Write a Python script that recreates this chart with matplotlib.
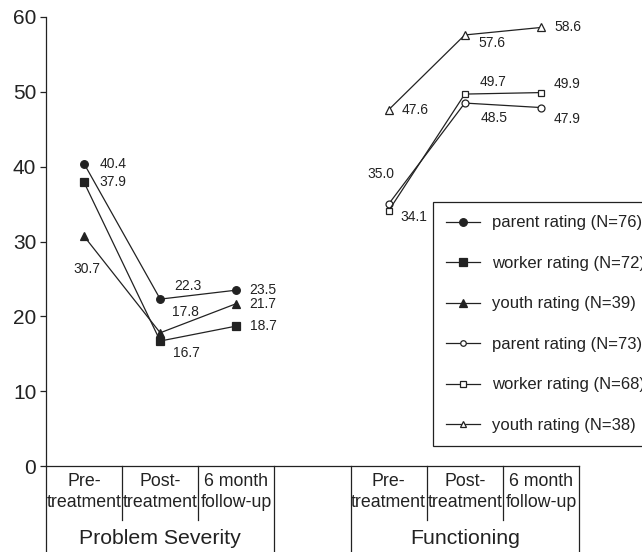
import numpy as np
import matplotlib
matplotlib.use('Agg')
import matplotlib.pyplot as plt
from matplotlib.lines import Line2D

plt.rcParams['font.family'] = ['Liberation Sans', 'DejaVu Sans']

TIMEPOINTS = ['Pre-\ntreatment', 'Post-\ntreatment', '6 month\nfollow-up']
DOMAINS = ['Problem Severity', 'Functioning']

# problem severity (filled markers)
ps_parent = [40.4, 22.3, 23.5]
ps_worker = [37.9, 16.7, 18.7]
ps_youth = [30.7, 17.8, 21.7]
# functioning (open markers)
fn_parent = [35.0, 48.5, 47.9]
fn_worker = [34.1, 49.7, 49.9]
fn_youth = [47.6, 57.6, 58.6]

LABELS = ['parent rating (N=76)', 'worker rating (N=72)', 'youth rating (N=39)',
          'parent rating (N=73)', 'worker rating (N=68)', 'youth rating (N=38)']

# value label offsets in pixels (dx, dy) per point
PS_OFFS = {
    'parent': [(29, 0), (28, 13), (26, 0)],
    'worker': [(29, 0), (26, -12), (27, 0)],
    'youth':  [(3, -33), (25, 21), (26, 0)],
}
FN_OFFS = {
    'parent': [(-8, 30), (29, -15), (26, -11)],
    'worker': [(25, -6), (28, 12), (26, 9)],
    'youth':  [(26, 0), (27, -8), (27, 0)],
}

INK = '#222222'

fig = plt.figure(figsize=(6.42, 5.52), dpi=100)
ax = fig.add_axes([46 / 642, 86 / 552, 533 / 642, 449 / 552])

x_ps = np.arange(3)
x_fn = np.arange(3) + 4

series = [
    (x_ps, ps_parent, 'o', INK, 5.5, PS_OFFS['parent']),
    (x_ps, ps_worker, 's', INK, 5.5, PS_OFFS['worker']),
    (x_ps, ps_youth, '^', INK, 6, PS_OFFS['youth']),
    (x_fn, fn_parent, 'o', 'white', 5, FN_OFFS['parent']),
    (x_fn, fn_worker, 's', 'white', 5, FN_OFFS['worker']),
    (x_fn, fn_youth, '^', 'white', 5.5, FN_OFFS['youth']),
]

handles = []
for (xs, ys, m, fc, ms, offs), lab in zip(series, LABELS):
    ax.plot(xs, ys, color=INK, lw=0.9, marker=m, markersize=ms,
            markerfacecolor=fc, markeredgecolor=INK, markeredgewidth=0.9,
            clip_on=False, zorder=3)
    for xv, yv, (dx, dy) in zip(xs, ys, offs):
        ax.annotate(f'{yv:.1f}', (xv, yv), xytext=(dx, dy),
                    textcoords='offset pixels', ha='center', va='center',
                    fontsize=10, color=INK)
    hms = ms - 1 if fc == 'white' else ms
    handles.append(Line2D([], [], color=INK, lw=0.9, marker=m, markersize=hms,
                          markerfacecolor=fc, markeredgecolor=INK,
                          markeredgewidth=0.9, label=lab))

ax.set_xlim(-0.5, 6.5)
ax.set_ylim(0, 60)
ax.set_yticks(np.arange(0, 61, 10))
ax.set_xticks([])
ax.tick_params(axis='y', labelsize=15, length=4, width=0.9, colors=INK, pad=3)
ax.spines['top'].set_visible(False)
ax.spines['right'].set_visible(False)
for s in ('left', 'bottom'):
    ax.spines[s].set_color(INK)
    ax.spines[s].set_linewidth(0.9)

# category table below the axis
tr = ax.get_xaxis_transform()
line_kw = dict(color=INK, lw=0.9, transform=tr, clip_on=False)
for start, name in zip([0, 4], DOMAINS):
    for i, tp in enumerate(TIMEPOINTS):
        ax.text(start + i, -0.058, tp, transform=tr, ha='center', va='center',
                fontsize=12.8, color=INK, linespacing=1.3)
    for b in (start + 0.5, start + 1.5):
        ax.plot([b, b], [0, -0.12], **line_kw)
    for b in (start - 0.5, start + 2.5):
        ax.plot([b, b], [0, -0.2], **line_kw)
    ax.text(start + 1, -0.162, name, transform=tr, ha='center', va='center',
            fontsize=15.3, color=INK)

leg = ax.legend(handles=handles, loc='upper left',
                bbox_to_anchor=((433 - 46) / 533, (466 - 202) / 449),
                borderaxespad=0, fontsize=12, labelspacing=1.53,
                handlelength=2.0, handletextpad=0.72, borderpad=0.8,
                fancybox=False, framealpha=1, edgecolor=INK)
leg.get_frame().set_linewidth(0.9)
for t in leg.get_texts():
    t.set_color(INK)

fig.savefig('out.png', dpi=100, facecolor='white')
